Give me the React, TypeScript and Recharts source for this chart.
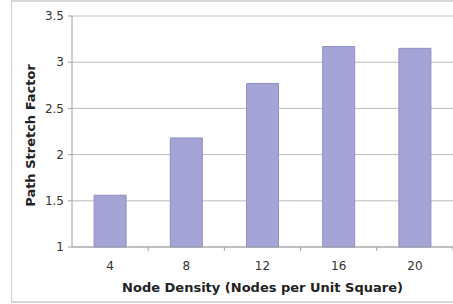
import { BarChart, Bar, XAxis, YAxis, CartesianGrid } from "recharts";

const densities = ["4", "8", "12", "16", "20"];
const stretch = [1.56, 2.18, 2.77, 3.17, 3.15];
const yTicks = [1, 1.5, 2, 2.5, 3, 3.5];

const data = densities.map((d, i) => ({ density: d, stretch: stretch[i] }));

const font = "'DejaVu Sans', Verdana, sans-serif";
const TICK_GAP = 10;
const TICK_LEN = 4;

// Excel-style category axis: tick marks sit between categories, labels in the middle
function CategoryTick(props: any) {
  const { x, y, payload } = props;
  const half = payload && payload.offset ? payload.offset : 0;
  const axisY = y - TICK_GAP - TICK_LEN;
  return (
    <g>
      <line x1={x + half} x2={x + half} y1={axisY} y2={axisY + TICK_LEN} stroke="#a0a0a0" />
      <text x={x} y={y} dy="0.71em" textAnchor="middle" fill="#333" fontSize={12} fontFamily={font}>
        {payload.value}
      </text>
    </g>
  );
}

export default function App() {
  return (
    <div style={{ position: "absolute", left: 0, top: 0, width: 453, height: 304, background: "#fff" }}>
      <div
        style={{
          position: "absolute",
          left: 11,
          top: 0,
          width: 460,
          height: 299,
          borderLeft: "1px solid #d0d0d0",
          borderTop: "2px solid #d8d8d8",
          borderBottom: "2px solid #d8d8d8",
        }}
      />
      <BarChart
        width={453}
        height={304}
        data={data}
        margin={{ top: 16, right: 0, left: 0, bottom: 8 }}
        barCategoryGap="29%"
        style={{ position: "absolute", left: 0, top: 0 }}
      >
        <CartesianGrid vertical={false} stroke="#bdbdbd" />
        <XAxis
          dataKey="density"
          stroke="#a0a0a0"
          tickSize={TICK_LEN}
          tickLine={{ stroke: "none" }}
          tick={<CategoryTick />}
          tickMargin={TICK_GAP}
          height={49}
          label={{
            value: "Node Density (Nodes per Unit Square)",
            position: "insideBottom",
            offset: 4,
            style: { fill: "#222", fontSize: 13, fontWeight: "bold", fontFamily: font },
          }}
        />
        <YAxis
          type="number"
          domain={[1, 3.5]}
          ticks={yTicks}
          width={72}
          stroke="#a0a0a0"
          tickSize={4}
          tickMargin={4}
          tick={{ fill: "#333", fontSize: 12, fontFamily: font }}
          label={{
            value: "Path Stretch Factor",
            angle: -90,
            position: "insideLeft",
            offset: 30,
            dy: 4,
            style: { fill: "#222", fontSize: 13, fontWeight: "bold", fontFamily: font, textAnchor: "middle" },
          }}
        />
        <Bar dataKey="stretch" fill="#a4a4d6" stroke="#8e8ec2" strokeWidth={1} isAnimationActive={false} />
      </BarChart>
    </div>
  );
}
